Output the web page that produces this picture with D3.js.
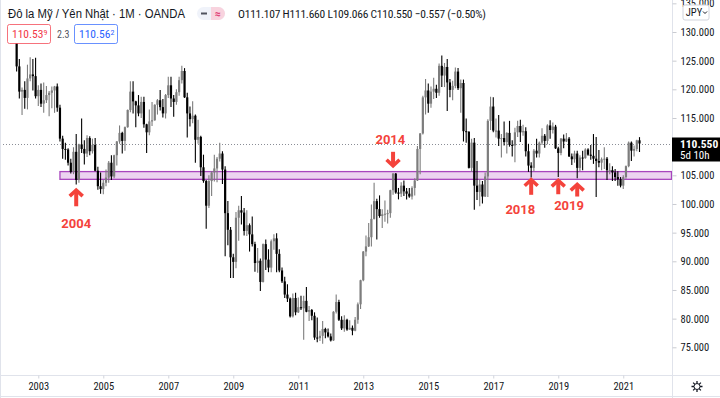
<!DOCTYPE html>
<html>
<head>
<meta charset="utf-8">
<script src="https://cdn.jsdelivr.net/npm/d3@7"></script>
<style>
  body { margin:0; background:#fff; }
  svg { display:block; }
  text { font-family:'Liberation Sans Narrow','Arial Narrow','Roboto Condensed',sans-serif; }
</style>
</head>
<body>
<div class="chart"></div>
<script>
// first candle is May 2002, one candle per month
var startYear = 2002, startMonth = 5

var opens = [
  128.5,124.0,119.6,119.9,118.5,121.9,122.6,122.3,
  118.8,119.9,117.5,118.1,119.0,119.4,119.8,120.5,116.8,111.4,109.6,109.5,
  107.2,105.6,109.1,104.2,110.4,109.6,108.8,111.5,109.2,110.3,105.8,103.1,
  102.6,103.7,104.6,107.2,104.8,108.5,110.9,112.4,111.0,113.4,116.4,119.6,
  117.9,117.2,115.8,117.8,113.9,112.5,114.4,114.6,117.3,118.1,116.9,115.8,
  119.0,120.7,118.4,117.8,119.5,121.6,123.2,118.6,115.8,114.8,115.4,111.2,
  111.7,106.4,104.0,99.7,104.0,105.5,106.2,107.9,108.8,106.0,98.4,95.5,
  90.7,89.9,97.6,98.9,98.5,95.3,96.3,94.7,93.0,89.7,90.1,86.4,
  93.0,90.3,88.9,93.5,94.0,91.3,88.4,86.5,84.2,83.5,80.4,83.6,
  81.1,82.0,81.8,83.1,81.2,81.5,80.5,76.7,76.6,77.0,78.2,77.6,
  76.9,76.2,81.2,82.9,79.8,78.3,79.8,78.1,78.4,77.9,79.8,82.5,
  86.7,91.7,92.6,94.2,97.4,100.5,99.1,97.9,98.2,98.3,98.4,102.4,
  105.3,102.0,101.8,103.2,102.2,101.8,101.3,102.8,104.1,109.6,112.3,118.6,
  119.8,117.5,119.6,120.1,119.4,124.1,122.4,123.9,121.2,119.9,120.6,123.1,
  120.2,121.1,112.7,112.6,106.3,110.7,103.2,102.1,103.4,101.3,104.8,114.5,
  117.0,112.8,112.8,111.4,111.5,110.8,112.4,110.3,110.2,112.5,113.6,112.5,
  112.7,109.2,106.7,106.3,109.3,108.8,110.7,111.9,111.0,113.7,112.9,113.5,
  109.7,108.9,111.4,110.9,111.4,108.3,107.8,108.8,106.3,108.1,108.0,109.5,
  108.6,108.4,107.9,107.5,107.2,107.8,107.9,105.9,105.9,105.5,104.7,104.3,
  103.2,104.7,106.6,110.7,109.3,109.6,111.107
]
var highs = [
  128.6,125.3,120.3,121.4,124.3,125.6,125.3,125.5,
  120.7,121.0,121.2,120.6,119.7,120.5,120.6,121.0,117.3,111.9,110.7,109.7,
  107.9,109.9,112.2,110.5,114.9,111.1,112.0,111.8,111.4,111.5,106.5,105.5,
  104.2,106.0,107.5,108.5,108.6,111.0,113.7,112.6,113.5,116.5,121.4,121.4,
  118.0,119.0,118.7,118.7,114.0,116.5,117.8,117.4,118.3,119.9,118.3,119.2,
  122.2,122.2,119.0,120.0,122.2,124.1,123.7,119.4,117.0,117.9,115.6,114.7,
  111.9,108.6,104.2,105.0,105.7,108.6,108.2,110.7,109.2,106.6,100.5,96.0,
  91.3,98.6,99.7,101.4,99.3,98.9,96.6,97.8,93.4,92.3,90.5,93.1,
  93.8,92.1,93.8,94.7,94.9,92.1,88.9,87.3,86.0,83.7,84.4,84.5,
  83.7,84.0,84.0,85.5,82.2,81.7,81.1,80.2,77.9,79.6,78.4,78.3,
  77.4,81.3,84.2,83.3,80.4,80.6,80.0,79.7,78.8,80.3,82.8,86.8,
  91.8,94.5,96.7,99.9,103.7,100.9,101.5,99.1,100.6,99.0,102.5,105.4,
  105.4,102.8,103.8,104.1,102.8,102.8,103.1,104.5,110.1,112.4,118.9,121.8,
  121.0,120.5,122.0,120.8,124.5,125.9,124.6,125.3,121.8,121.5,123.8,123.7,
  121.7,121.7,114.9,112.7,111.4,111.5,107.5,104.3,104.0,105.5,114.8,118.7,
  118.6,114.9,115.5,112.2,114.4,112.5,114.5,111.1,113.3,114.5,114.7,113.8,
  113.4,110.5,107.3,109.6,111.4,110.9,113.2,112.2,113.9,114.6,114.2,113.8,
  110.0,111.5,112.1,112.4,111.7,108.8,109.3,109.3,108.5,109.3,109.7,109.7,
  110.3,112.2,111.7,109.4,108.1,109.9,108.2,107.1,106.6,106.1,105.7,104.7,
  105.0,106.7,110.9,110.9,110.2,111.2,111.660
]
var lows = [
  123.1,118.4,115.5,116.6,116.5,121.4,119.8,118.4,
  117.1,116.9,115.9,117.6,115.3,116.7,115.9,116.1,110.9,107.9,107.7,106.7,
  105.3,105.2,103.4,103.7,108.9,106.9,108.2,108.5,108.8,105.7,102.5,101.8,
  101.7,103.1,103.7,104.2,104.5,106.7,110.5,108.8,109.3,113.3,116.0,115.8,
  113.4,115.3,115.0,113.3,108.9,112.0,113.6,114.5,115.6,116.3,115.1,114.9,
  118.5,116.9,115.2,117.3,118.9,121.0,118.5,111.6,113.5,114.1,107.2,110.5,
  104.9,103.7,95.7,99.3,101.4,103.9,103.8,107.4,103.5,90.9,92.8,87.1,
  87.1,88.8,93.6,96.4,94.5,94.4,91.7,92.6,88.2,88.0,84.8,86.3,
  88.5,88.1,88.1,92.0,88.1,88.1,86.2,83.6,82.9,80.2,80.2,80.6,
  81.0,81.5,76.3,81.1,79.6,79.7,76.3,75.9,76.1,75.6,76.6,76.7,
  76.0,76.1,80.9,79.6,78.0,77.7,77.9,78.0,77.1,77.8,79.1,81.7,
  86.5,90.9,92.5,92.6,97.3,93.8,97.6,95.8,96.9,96.6,97.6,101.6,
  101.8,100.8,101.2,101.4,100.8,101.1,100.8,101.5,104.0,105.2,112.1,115.6,
  115.9,116.8,118.3,118.5,118.9,120.4,120.4,116.2,118.6,118.1,120.2,119.9,
  115.9,110.9,110.7,106.2,105.6,99.0,100.7,99.6,100.1,101.2,101.2,112.9,
  112.5,111.6,110.1,108.1,110.2,108.8,110.0,108.3,107.3,111.7,110.8,111.9,
  108.3,105.6,104.6,105.7,108.1,108.1,110.3,109.8,110.4,111.4,112.3,109.6,
  104.7,108.5,109.7,110.8,108.2,106.8,107.2,104.5,105.7,105.9,107.9,108.4,
  107.7,107.0,101.2,106.4,105.9,106.1,104.2,105.2,104.0,104.0,103.2,102.9,
  102.6,104.4,106.4,107.5,108.3,109.2,109.066
]
var closes = [
  124.0,119.6,119.9,118.5,121.9,122.6,122.3,118.8,
  119.9,117.5,118.1,119.0,119.4,119.8,120.5,116.8,111.4,109.6,109.5,107.2,
  105.6,109.1,104.2,110.4,109.6,108.8,111.5,109.2,110.3,105.8,103.1,102.6,
  103.7,104.6,107.2,104.8,108.5,110.9,112.4,111.0,113.4,116.4,119.6,117.9,
  117.2,115.8,117.8,113.9,112.5,114.4,114.6,117.3,118.1,116.9,115.8,119.0,
  120.7,118.4,117.8,119.5,121.6,123.2,118.6,115.8,114.8,115.4,111.2,111.7,
  106.4,104.0,99.7,104.0,105.5,106.2,107.9,108.8,106.0,98.4,95.5,90.7,
  89.9,97.6,98.9,98.5,95.3,96.3,94.7,93.0,89.7,90.1,86.4,93.0,
  90.3,88.9,93.5,94.0,91.3,88.4,86.5,84.2,83.5,80.4,83.6,81.1,
  82.0,81.8,83.1,81.2,81.5,80.5,76.7,76.6,77.0,78.2,77.6,76.9,
  76.2,81.2,82.9,79.8,78.3,79.8,78.1,78.4,77.9,79.8,82.5,86.7,
  91.7,92.6,94.2,97.4,100.5,99.1,97.9,98.2,98.3,98.4,102.4,105.3,
  102.0,101.8,103.2,102.2,101.8,101.3,102.8,104.1,109.6,112.3,118.6,119.8,
  117.5,119.6,120.1,119.4,124.1,122.4,123.9,121.2,119.9,120.6,123.1,120.2,
  121.1,112.7,112.6,106.3,110.7,103.2,102.1,103.4,101.3,104.8,114.5,117.0,
  112.8,112.8,111.4,111.5,110.8,112.4,110.3,110.2,112.5,113.6,112.5,112.7,
  109.2,106.7,106.3,109.3,108.8,110.7,111.9,111.0,113.7,112.9,113.5,109.7,
  108.9,111.4,110.9,111.4,108.3,107.8,108.8,106.3,108.1,108.0,109.5,108.6,
  108.4,107.9,107.5,107.2,107.8,107.9,105.9,105.9,105.5,104.7,104.3,103.2,
  104.7,106.6,110.7,109.3,109.6,111.1,110.550
]

// axis labels (110 sits under the last-price tag)
var yearTicks = [2003, 2005, 2007, 2009, 2011, 2013, 2015, 2017, 2019, 2021]
var priceTicks = [75, 80, 85, 90, 95, 100, 105, 115, 120, 125, 130, 135]

// support zone (purple box) from Sep 2003 to the right edge
var zoneStart = '2003-09', zoneLow = 104.3, zoneHigh = 105.65

// arrows: month, tail price, tip price
var arrowDates = ['2004-03', '2013-12', '2018-03', '2019-01', '2019-08']
var arrowFrom  = [99.6, 109.1, 101.6, 101.7, 101.3]
var arrowTo    = [102.6, 106.5, 104.4, 104.3, 103.6]
// red year labels: text, month, price
var noteTexts  = ['2004', '2014', '2018', '2019']
var noteDates  = ['2004-03', '2013-11', '2017-11', '2019-05']
var notePrices = [96.7, 111.3, 99.0, 99.8]

var lastPrice = 110.550
var title = 'Đô la Mỹ / Yên Nhật · 1M · OANDA'
var ohlcText = 'O111.107 H111.660 L109.066 C110.550 −0.557 (−0.50%)'

// ------------------------------------------------------------------ //
var W = 720, H = 398
var plotRight = 672, plotBottom = 375

function monthIdx(s) {   // months since Jan 2003
  var p = s.split('-')
  return (+p[0] - 2003) * 12 + (+p[1] - 1)
}

var candles = closes.map(function(c, i) {
  return {i: (startYear - 2003) * 12 + (startMonth - 1) + i,
          o: opens[i], h: highs[i], l: lows[i], c: c}
})

var xScale = d3.scaleLinear().domain([-14.14, 234]).range([0, plotRight])
var yScale = d3.scaleLinear().domain([75, 130]).range([347.3, 32])

var svg = d3.select('.chart').append('svg')
  .attr('width', W).attr('height', H)

svg.append('defs').append('clipPath').attr('id', 'plotclip')
  .append('rect').attr('x', 0).attr('y', 0).attr('width', plotRight).attr('height', plotBottom)

var plot = svg.append('g').attr('clip-path', 'url(#plotclip)')

// zone
plot.append('rect')
  .attr('x', xScale(monthIdx(zoneStart)))
  .attr('y', yScale(zoneHigh))
  .attr('width', plotRight - xScale(monthIdx(zoneStart)) - 0.5)
  .attr('height', yScale(zoneLow) - yScale(zoneHigh))
  .attr('fill', '#ecd3f0')
  .attr('stroke', '#a845bd')
  .attr('stroke-width', 1.3)

// last price dotted line
plot.append('line')
  .attr('x1', 0).attr('x2', plotRight)
  .attr('y1', Math.round(yScale(lastPrice)) + 0.5).attr('y2', Math.round(yScale(lastPrice)) + 0.5)
  .attr('stroke', '#8a8d96').attr('stroke-dasharray', '1,2')

// candles
var upCol = '#7d7d7d', downCol = '#000'
var cg = plot.selectAll('.candle').data(candles).enter().append('g').attr('class', 'candle')

cg.append('line')
  .attr('x1', function(d){ return xScale(d.i) }).attr('x2', function(d){ return xScale(d.i) })
  .attr('y1', function(d){ return yScale(d.h) }).attr('y2', function(d){ return yScale(d.l) })
  .attr('stroke', function(d){ return d.c >= d.o ? upCol : downCol })
  .attr('stroke-width', 1.1)

cg.append('rect')
  .attr('x', function(d){ return xScale(d.i) - 1.1 })
  .attr('width', 2.2)
  .attr('y', function(d){ return yScale(Math.max(d.o, d.c)) })
  .attr('height', function(d){ return Math.max(1, Math.abs(yScale(d.o) - yScale(d.c))) })
  .attr('fill', function(d){ return d.c >= d.o ? upCol : downCol })

// arrows
var red = '#f4433b'
arrowDates.forEach(function(dt, k) {
  var x = xScale(monthIdx(dt)), y0 = yScale(arrowFrom[k]), y1 = yScale(arrowTo[k])
  var dir = y1 < y0 ? 1 : -1   // 1 = pointing up
  plot.append('path')
    .attr('d', 'M' + x + ',' + y0 + 'L' + x + ',' + (y1 + dir * 1.5))
    .attr('stroke', red).attr('stroke-width', 4).attr('fill', 'none')
  plot.append('path')
    .attr('d', 'M' + (x - 6.5) + ',' + (y1 + dir * 7) + 'L' + x + ',' + (y1 + dir * 1) + 'L' + (x + 6.5) + ',' + (y1 + dir * 7))
    .attr('stroke', red).attr('stroke-width', 3.6).attr('fill', 'none')
    .attr('stroke-linejoin', 'miter')
})

plot.selectAll('.note').data(noteTexts).enter().append('text')
  .attr('class', 'note')
  .attr('x', function(d, k){ return xScale(monthIdx(noteDates[k])) })
  .attr('y', function(d, k){ return yScale(notePrices[k]) })
  .attr('dy', '0.36em')
  .attr('text-anchor', 'middle')
  .style('font-family', 'Roboto, sans-serif')
  .style('font-weight', 'bold').style('font-size', '13px')
  .attr('fill', red)
  .text(function(d){ return d })

// ---- price axis (right)
svg.append('line').attr('x1', plotRight + 0.5).attr('x2', plotRight + 0.5)
  .attr('y1', 0).attr('y2', H).attr('stroke', '#e0e3eb')

var yAxis = d3.axisRight(yScale)
  .tickValues(priceTicks)
  .tickFormat(d3.format('.3f'))
  .tickSize(4).tickPadding(4)

var yAx = svg.append('g')
  .attr('transform', 'translate(' + (plotRight + 0.5) + ',0)')
  .call(yAxis)
yAx.select('.domain').remove()
yAx.selectAll('line').attr('stroke', '#c9cbd1')
yAx.selectAll('text').attr('fill', '#131722').style('font-size', '10.5px')

// currency dropdown
svg.append('rect').attr('x', 683).attr('y', 5).attr('width', 26).attr('height', 15).attr('rx', 2)
  .attr('fill', '#fff').attr('stroke', '#d1d4dc')
svg.append('text').attr('x', 694).attr('y', 16).attr('text-anchor', 'middle')
  .style('font-size', '10.5px').attr('fill', '#131722').text('JPY')
svg.append('path').attr('d', 'M703,11.5 L705,13.5 L707,11.5')
  .attr('stroke', '#131722').attr('fill', 'none').attr('stroke-width', 1)

// last price tag
var ly = yScale(lastPrice)
svg.append('rect').attr('x', plotRight).attr('y', ly - 6).attr('width', W - plotRight).attr('height', 24)
  .attr('fill', '#000')
svg.append('text').attr('x', 680).attr('y', ly + 4).attr('fill', '#fff')
  .style('font-size', '11.5px').style('font-weight', 'bold').text(d3.format('.3f')(lastPrice))
svg.append('text').attr('x', 680).attr('y', ly + 15.5).attr('fill', '#fff')
  .style('font-size', '11px').text('5d 10h')

// ---- time axis (bottom)
svg.append('line').attr('x1', 0).attr('x2', W).attr('y1', plotBottom + 0.5).attr('y2', plotBottom + 0.5)
  .attr('stroke', '#e0e3eb')
svg.append('line').attr('x1', 0).attr('x2', W).attr('y1', H - 1.5).attr('y2', H - 1.5)
  .attr('stroke', '#e0e3eb')
svg.append('line').attr('x1', 0.5).attr('x2', 0.5).attr('y1', 0).attr('y2', H)
  .attr('stroke', '#e0e3eb')

var xAxis = d3.axisBottom(xScale)
  .tickValues(yearTicks.map(function(y){ return (y - 2003) * 12 }))
  .tickFormat(function(d){ return 2003 + d / 12 })
  .tickSize(3).tickPadding(4)

var xAx = svg.append('g')
  .attr('transform', 'translate(0,' + (plotBottom + 0.5) + ')')
  .call(xAxis)
xAx.select('.domain').remove()
xAx.selectAll('line').attr('stroke', '#d1d4dc')
xAx.selectAll('text').attr('fill', '#131722').style('font-size', '10.5px')

// gear icon
var gear = svg.append('g').attr('transform', 'translate(697,386.5)')
gear.append('circle').attr('r', 3).attr('fill', 'none').attr('stroke', '#131722').attr('stroke-width', 1)
gear.append('path')
  .attr('d', d3.range(8).map(function(k){
      var a = k * Math.PI / 4
      return 'M' + (3 * Math.cos(a)) + ',' + (3 * Math.sin(a)) + 'L' + (5.5 * Math.cos(a)) + ',' + (5.5 * Math.sin(a))
  }).join(''))
  .attr('stroke', '#131722').attr('stroke-width', 1.3)
gear.append('circle').attr('r', 1.3).attr('fill', '#fff')

// ---- header
svg.append('text').attr('x', 8).attr('y', 18)
  .style('font-family', "'Liberation Sans', Arial, sans-serif")
  .style('font-size', '12.5px').attr('fill', '#131722')
  .attr('textLength', 177).attr('lengthAdjust', 'spacingAndGlyphs')
  .text(title)

// compare toggle pill
svg.append('rect').attr('x', 197).attr('y', 7).attr('width', 28).attr('height', 13).attr('rx', 6.5)
  .attr('fill', '#f0f3fa')
svg.append('path').attr('d', 'M211,7 h7.5 a6.5,6.5 0 0 1 0,13 h-7.5 z').attr('fill', '#f8d3de')
svg.append('line').attr('x1', 201).attr('x2', 207).attr('y1', 13.5).attr('y2', 13.5)
  .attr('stroke', '#50535e').attr('stroke-width', 2)
svg.append('text').attr('x', 218).attr('y', 17.5).attr('text-anchor', 'middle')
  .style('font-size', '12px').style('font-weight', 'bold').attr('fill', '#e0457b').text('≈')

svg.append('text').attr('x', 238).attr('y', 17.5)
  .style('font-size', '11.5px').attr('fill', '#131722')
  .attr('textLength', 248).attr('lengthAdjust', 'spacing')
  .text(ohlcText)

// indicator legend boxes
function valueBox(x, w, main, small, col) {
  svg.append('rect').attr('x', x + 0.5).attr('y', 24.5).attr('width', w).attr('height', 19).attr('rx', 2)
    .attr('fill', '#fff').attr('stroke', col).attr('stroke-opacity', 0.7)
  var t = svg.append('text').attr('x', x + 5).attr('y', 38).attr('fill', col).style('font-size', '11.5px')
  t.append('tspan').text(main)
  t.append('tspan').attr('dy', -3).style('font-size', '8px').text(small)
}
valueBox(7, 43, '110.53', '9', '#f23645')
svg.append('text').attr('x', 57).attr('y', 37.5).attr('fill', '#50535e').style('font-size', '10px').text('2.3')
valueBox(74, 43, '110.56', '2', '#2962ff')
</script>
</body>
</html>
